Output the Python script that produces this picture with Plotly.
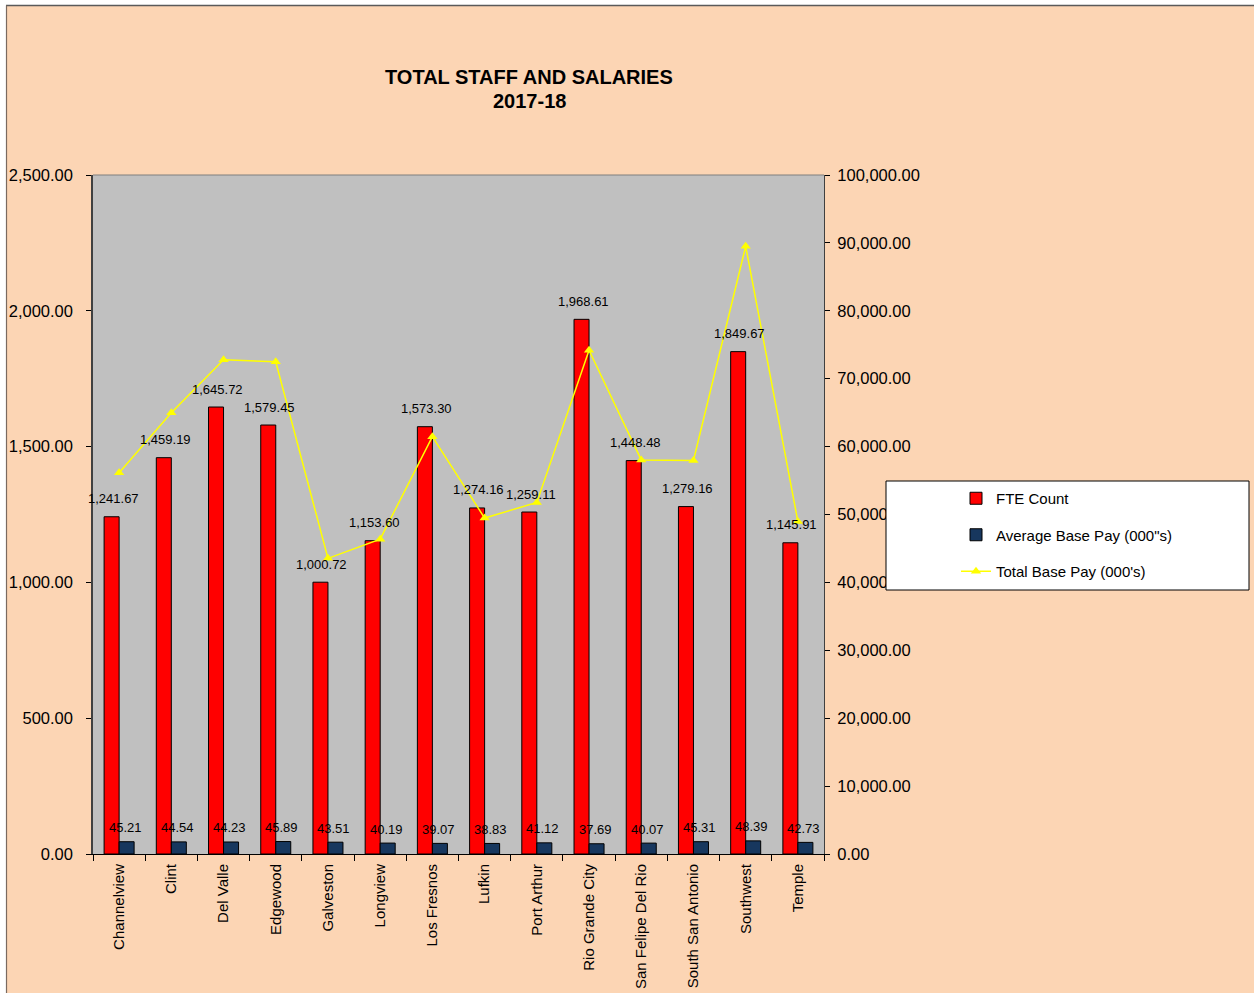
import plotly.graph_objects as go

categories = ["Channelview", "Clint", "Del Valle", "Edgewood", "Galveston", "Longview",
              "Los Fresnos", "Lufkin", "Port Arthur", "Rio Grande City",
              "San Felipe Del Rio", "South San Antonio", "Southwest", "Temple"]
fte_count = [1241.67, 1459.19, 1645.72, 1579.45, 1000.72, 1153.60, 1573.30,
             1274.16, 1259.11, 1968.61, 1448.48, 1279.16, 1849.67, 1145.91]
avg_base_pay = [45.21, 44.54, 44.23, 45.89, 43.51, 40.19, 39.07,
                38.83, 41.12, 37.69, 40.07, 45.31, 48.39, 42.73]
total_base_pay = [56136, 64993, 72790, 72481, 43541, 46363, 61469,
                  49476, 51775, 74197, 58041, 57959, 89506, 48965]
title_lines = ["TOTAL STAFF AND SALARIES", "2017-18"]

W, H = 1254, 993
ML, MR, MT, MB = 93, W - 824, 175, H - 854
PW, PH = W - ML - MR, H - MT - MB


def px(x):
    return (x - ML) / PW


def py(y):
    return (H - MB - y) / PH


FONT = "Arial, Liberation Sans, sans-serif"
PEACH = "#FCD5B4"

fig = go.Figure()
fig.add_trace(go.Bar(x=categories, y=fte_count, name="FTE Count",
                     marker=dict(color="#FF0000", line=dict(color="black", width=1)),
                     legendgroup="a"))
fig.add_trace(go.Bar(x=categories, y=avg_base_pay, name="Average Base Pay (000\"s)",
                     marker=dict(color="#17375E", line=dict(color="black", width=1)),
                     legendgroup="b"))
fig.add_trace(go.Scatter(x=categories, y=total_base_pay, name="Total Base Pay (000's)",
                         yaxis="y2", mode="lines+markers",
                         line=dict(color="#FFFF00", width=1.5),
                         marker=dict(symbol="triangle-up", size=9, color="#FFFF00"),
                         legendgroup="c"))

annotations = []
for c, v in zip(categories, fte_count):
    annotations.append(dict(x=c, y=v, xref="x", yref="y", text=f"{v:,.2f}",
                            showarrow=False, xshift=-6, yshift=18,
                            font=dict(family=FONT, size=13, color="black")))
for c, v in zip(categories, avg_base_pay):
    annotations.append(dict(x=c, y=v, xref="x", yref="y", text=f"{v:,.2f}",
                            showarrow=False, xshift=6, yshift=14,
                            font=dict(family=FONT, size=13, color="black")))
for line, ypix in zip(title_lines, [77, 101]):
    annotations.append(dict(xref="paper", yref="paper", x=px(529), y=py(ypix),
                            xanchor="center", yanchor="middle", showarrow=False,
                            text=f"<b>{line}</b>",
                            font=dict(family=FONT, size=20, color="black")))

shapes = [
    # white strips outside the frame
    dict(type="rect", xref="paper", yref="paper", x0=px(0), x1=px(W), y0=py(5), y1=py(0),
         fillcolor="white", line=dict(width=0), layer="above"),
    dict(type="rect", xref="paper", yref="paper", x0=px(0), x1=px(6), y0=py(H), y1=py(0),
         fillcolor="white", line=dict(width=0), layer="above"),
    dict(type="line", xref="paper", yref="paper", x0=px(6), x1=px(W), y0=py(5.5), y1=py(5.5),
         line=dict(color="#5A5A5A", width=1.5), layer="above"),
    dict(type="line", xref="paper", yref="paper", x0=px(6.5), x1=px(6.5), y0=py(H), y1=py(5.5),
         line=dict(color="#7A6A60", width=1.2), layer="above"),
    # legend box
    dict(type="rect", xref="paper", yref="paper", x0=px(886), x1=px(1249), y0=py(590), y1=py(481),
         fillcolor="white", line=dict(color="black", width=1), layer="above"),
]

fig.update_layout(
    width=W, height=H,
    margin=dict(l=ML, r=MR, t=MT, b=MB, pad=0, autoexpand=False),
    paper_bgcolor=PEACH, plot_bgcolor="#C0C0C0",
    font=dict(family=FONT, color="black"),
    barmode="group", bargap=0.425, bargroupgap=0,
    showlegend=True,
    legend=dict(x=px(956), y=py(482), xanchor="left", yanchor="top",
                bgcolor="rgba(0,0,0,0)", borderwidth=0,
                font=dict(family=FONT, size=15, color="black"),
                traceorder="grouped", tracegroupgap=14),
    xaxis=dict(type="category", range=[-0.5, len(categories) - 0.5], autorange=False,
               tickangle=-90, tickfont=dict(family=FONT, size=15), automargin=False,
               ticks="outside", tickson="boundaries", ticklen=6, tickcolor="black",
               ticklabelstandoff=3,
               showline=True, linecolor="black", linewidth=1, mirror=False,
               showgrid=False),
    yaxis=dict(range=[0, 2500], dtick=500, tickformat=",.2f", automargin=False,
               tickfont=dict(family=FONT, size=16.5), ticks="outside", ticklen=5,
               ticklabelstandoff=10,
               tickcolor="black", showline=True, linecolor="#404040", linewidth=1.5,
               showgrid=False, zeroline=False),
    yaxis2=dict(range=[0, 100000], dtick=10000, tickformat=",.2f", overlaying="y",
                side="right", tickfont=dict(family=FONT, size=16.5), ticks="outside",
                ticklen=5, ticklabelstandoff=4, automargin=False,
                tickcolor="black", showline=True, linecolor="#404040",
                linewidth=1, showgrid=False, zeroline=False),
    annotations=annotations,
    shapes=shapes,
)
# top border of plot area
fig.add_shape(type="line", xref="paper", yref="paper", x0=0, x1=1, y0=1, y1=1,
              line=dict(color="#7F7F7F", width=1))

fig.write_html("out.html", config={"displayModeBar": False},
               post_script="document.body.style.margin='0';document.body.style.overflow='hidden';")
